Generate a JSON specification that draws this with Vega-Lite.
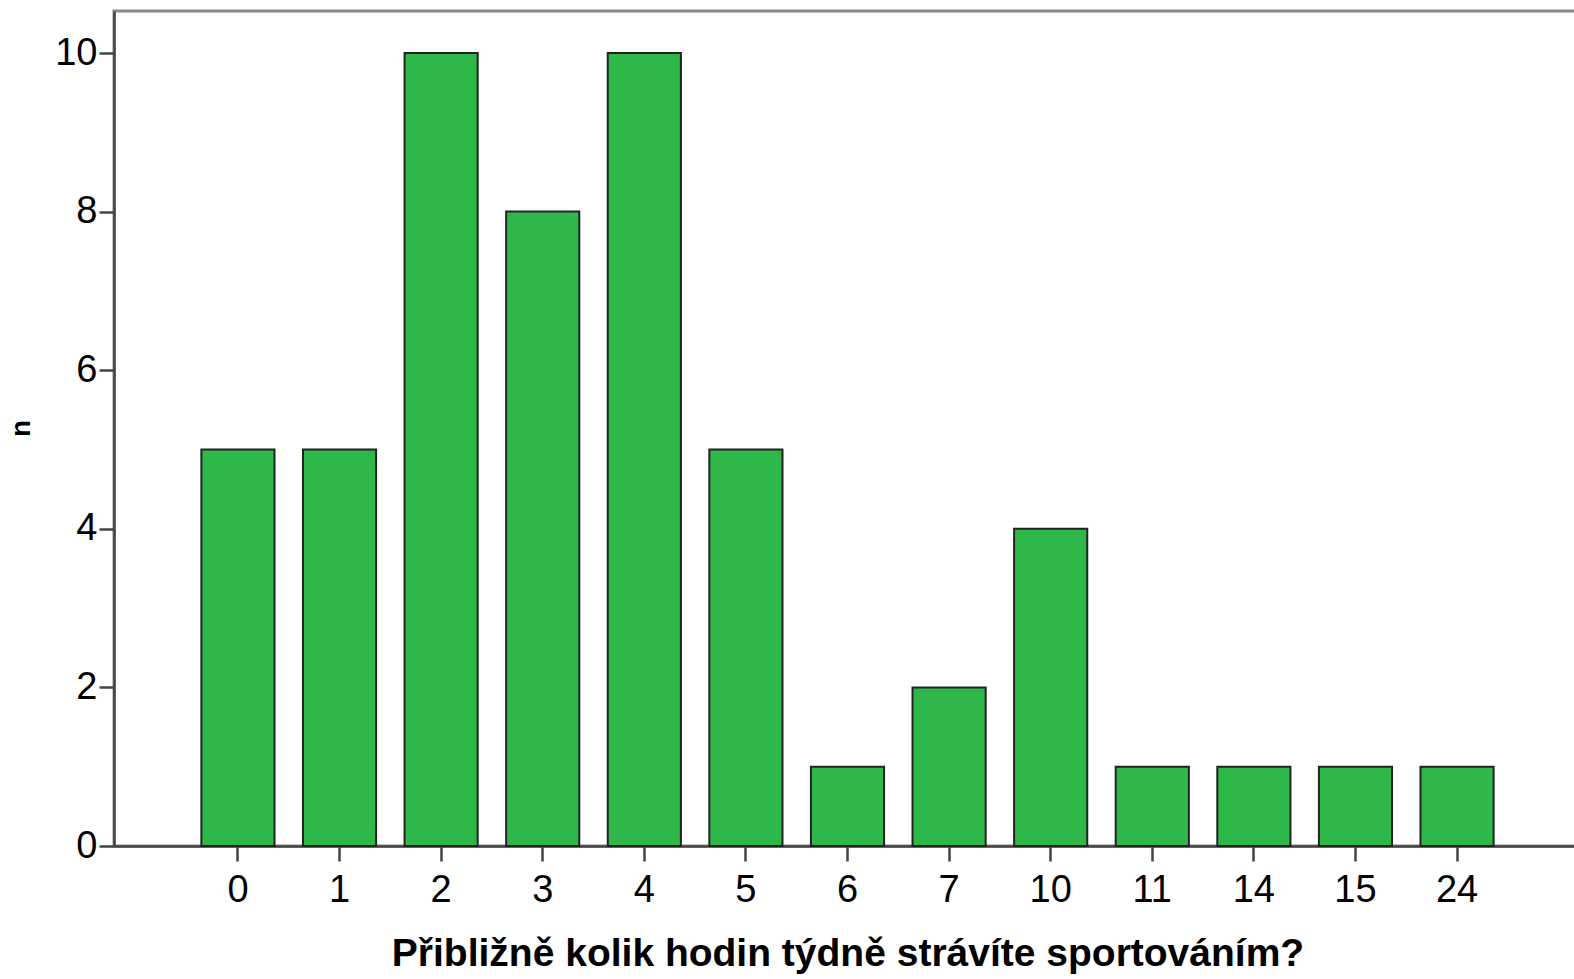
{
  "$schema": "https://vega.github.io/schema/vega-lite/v6.json",
  "width": 1467,
  "height": 835,
  "autosize": {"type": "none"},
  "padding": {"left": 114, "top": 11, "right": 0, "bottom": 133},
  "background": "white",
  "config": {
    "view": {"stroke": "#888888", "strokeWidth": 3},
    "font": "Liberation Sans"
  },
  "data": {
    "values": [
      {"hours": "0", "n": 5},
      {"hours": "1", "n": 5},
      {"hours": "2", "n": 10},
      {"hours": "3", "n": 8},
      {"hours": "4", "n": 10},
      {"hours": "5", "n": 5},
      {"hours": "6", "n": 1},
      {"hours": "7", "n": 2},
      {"hours": "10", "n": 4},
      {"hours": "11", "n": 1},
      {"hours": "14", "n": 1},
      {"hours": "15", "n": 1},
      {"hours": "24", "n": 1}
    ]
  },
  "mark": {"type": "bar", "color": "#2fb84a", "stroke": "#222222", "strokeWidth": 2},
  "encoding": {
    "x": {
      "field": "hours",
      "type": "ordinal",
      "sort": null,
      "scale": {"paddingInner": 0.28, "paddingOuter": 0.86},
      "axis": {
        "title": "Přibližně kolik hodin týdně strávíte sportováním?",
        "titleFont": "Liberation Sans",
        "titleFontSize": 39,
        "titleFontWeight": "bold",
        "titleColor": "black",
        "titlePadding": 25,
        "labelAngle": 0,
        "labelFontSize": 38,
        "labelColor": "black",
        "labelPadding": 10,
        "tickSize": 15,
        "tickWidth": 2.5,
        "tickColor": "#444444",
        "domainColor": "#444444",
        "domainWidth": 2.5
      }
    },
    "y": {
      "field": "n",
      "type": "quantitative",
      "scale": {"domain": [0, 10.53], "nice": false},
      "axis": {
        "title": "n",
        "titleFontSize": 28,
        "titleFontWeight": "bold",
        "titleColor": "black",
        "titleX": -93,
        "titleY": 417,
        "titleBaseline": "middle",
        "titleAlign": "center",
        "values": [0, 2, 4, 6, 8, 10],
        "grid": false,
        "labelFontSize": 38,
        "labelColor": "black",
        "labelPadding": 2,
        "tickSize": 15,
        "tickWidth": 2.5,
        "tickColor": "#444444",
        "domainColor": "#444444",
        "domainWidth": 2.5
      }
    }
  }
}
